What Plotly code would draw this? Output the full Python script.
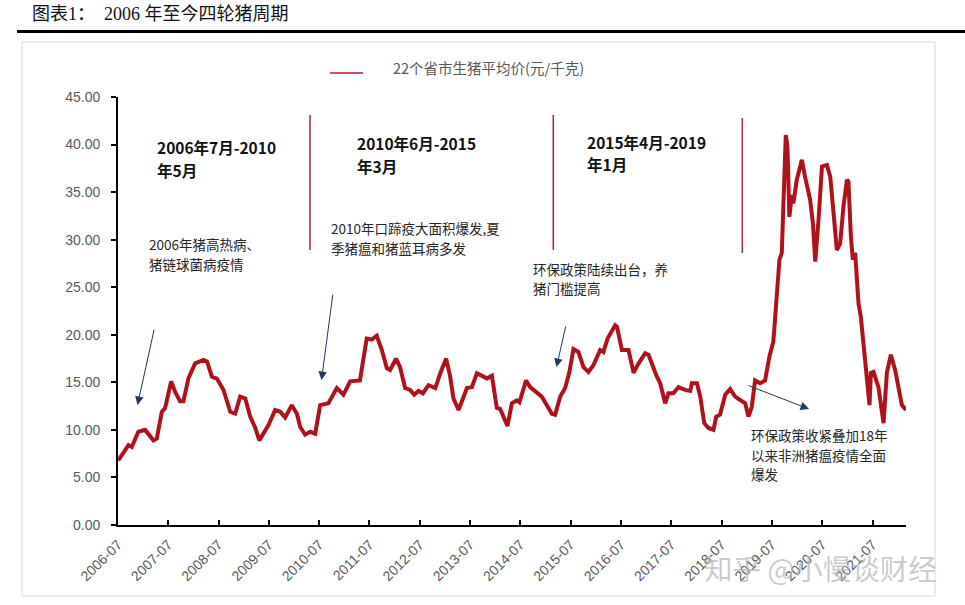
import plotly.graph_objects as go

# ---------------- data ----------------
dates = [
    "2006-07-03", "2006-09-15", "2006-10-09", "2006-11-26", "2007-01-14", "2007-03-15", "2007-04-09",
    "2007-05-15", "2007-06-08", "2007-07-22", "2007-08-20", "2007-09-25", "2007-10-19", "2007-11-24",
    "2008-01-12", "2008-03-13", "2008-04-07", "2008-05-13", "2008-06-18", "2008-08-05", "2008-09-23",
    "2008-10-29", "2008-12-04", "2009-01-10", "2009-02-15", "2009-03-24", "2009-04-22", "2009-05-23",
    "2009-06-28", "2009-08-15", "2009-09-21", "2009-10-27", "2009-12-14", "2010-01-20", "2010-02-13",
    "2010-03-21", "2010-04-26", "2010-06-02", "2010-07-08", "2010-09-06", "2010-11-06", "2010-12-24",
    "2011-02-11", "2011-04-23", "2011-06-11", "2011-07-17", "2011-08-23", "2011-09-29", "2011-11-04",
    "2011-11-28", "2012-01-10", "2012-02-08", "2012-03-16", "2012-04-21", "2012-05-21", "2012-06-21",
    "2012-07-23", "2012-09-02", "2012-10-21", "2012-11-26", "2013-01-08", "2013-02-06", "2013-03-02",
    "2013-04-08", "2013-05-14", "2013-06-08", "2013-07-14", "2013-08-19", "2013-10-06", "2013-10-31",
    "2013-12-06", "2014-01-11", "2014-02-04", "2014-03-29", "2014-04-30", "2014-06-05", "2014-06-24",
    "2014-08-11", "2014-09-10", "2014-10-28", "2014-12-03", "2015-01-09", "2015-02-14", "2015-03-10",
    "2015-04-16", "2015-05-22", "2015-06-22", "2015-07-21", "2015-08-26", "2015-10-02", "2015-11-07",
    "2015-12-13", "2016-01-31", "2016-02-24", "2016-03-25", "2016-05-19", "2016-06-01", "2016-07-07",
    "2016-08-24", "2016-09-30", "2016-11-05", "2016-12-23", "2017-01-16", "2017-03-18", "2017-04-11",
    "2017-05-17", "2017-06-10", "2017-07-16", "2017-08-22", "2017-10-09", "2017-11-15", "2017-11-27",
    "2018-01-03", "2018-01-27", "2018-02-25", "2018-03-28", "2018-05-03", "2018-05-23", "2018-06-20",
    "2018-07-27", "2018-09-01", "2018-10-07", "2018-11-13", "2018-12-19", "2019-01-12", "2019-02-05",
    "2019-03-01", "2019-04-07", "2019-05-13", "2019-06-13", "2019-07-12", "2019-08-06", "2019-08-25",
    "2019-09-11", "2019-09-28", "2019-10-10", "2019-10-22", "2019-11-05", "2019-11-23", "2019-12-04",
    "2019-12-29", "2020-02-04", "2020-02-27", "2020-04-04", "2020-04-24", "2020-05-11", "2020-06-04",
    "2020-06-29", "2020-08-04", "2020-08-28", "2020-09-21", "2020-10-15", "2020-11-08", "2020-12-02",
    "2020-12-27", "2021-01-07", "2021-01-25", "2021-02-08", "2021-02-25", "2021-03-21", "2021-04-07",
    "2021-04-26", "2021-05-21", "2021-06-09", "2021-06-19", "2021-07-08", "2021-08-13", "2021-09-19",
    "2021-10-13", "2021-11-11", "2021-12-12", "2022-01-05", "2022-01-30", "2022-03-01",
]
prices = [
    6.8, 8.4, 8.2, 9.8, 10.0, 8.9, 9.1,
    11.9, 12.3, 15.1, 14.0, 13.0, 13.0, 15.4,
    17.0, 17.35, 17.2, 15.6, 15.4, 14.2, 11.9,
    11.7, 13.5, 13.3, 11.4, 10.2, 8.9, 9.6,
    10.5, 12.1, 11.9, 11.3, 12.6, 11.7, 10.3,
    9.5, 9.8, 9.6, 12.6, 12.8, 14.4, 13.7,
    15.1, 15.2, 19.6, 19.5, 19.9, 18.4, 16.5,
    16.3, 17.5, 16.6, 14.4, 14.2, 13.7, 14.1,
    13.85, 14.7, 14.4, 15.95, 17.5, 15.6, 13.3,
    12.1, 13.5, 14.4, 14.5, 15.95, 15.6, 15.4,
    15.7, 12.3, 12.2, 10.4, 12.8, 13.1, 12.9,
    15.2, 14.5, 13.85, 13.5, 12.6, 11.7, 11.6,
    13.5, 14.4, 16.1, 18.5, 18.2, 16.6, 16.1,
    16.8, 18.4, 18.2, 19.6, 21.0, 20.85, 18.4,
    18.4, 16.0, 17.0, 18.05, 17.9, 15.6, 14.9,
    12.8, 13.85, 13.85, 14.5, 14.2, 14.1, 14.9,
    14.9, 13.5, 10.7, 10.2, 10.0, 11.4, 11.6,
    13.7, 14.3, 13.5, 13.2, 12.8, 11.4, 12.4,
    15.2, 14.9, 15.2, 17.7, 19.3, 24.0, 27.9,
    28.6, 35.6, 41.0, 39.8, 32.4, 34.7, 33.8,
    36.3, 38.4, 36.6, 34.2, 31.7, 27.7, 32.1,
    37.7, 37.85, 36.6, 32.8, 28.9, 29.6, 33.5,
    36.3, 36.1, 30.3, 27.9, 28.6, 23.3, 21.9,
    19.1, 16.0, 12.6, 16.0, 16.1, 14.5, 10.7,
    16.0, 17.9, 16.3, 14.2, 12.6, 12.1,
]
series_name = "22个省市生猪平均价(元/千克)"
tick_dates = [
    "2006-07-01", "2007-07-01", "2008-07-01", "2009-07-01", "2010-07-01", "2011-07-01",
    "2012-07-01", "2013-07-01", "2014-07-01", "2015-07-01", "2016-07-01", "2017-07-01",
    "2018-07-01", "2019-07-01", "2020-07-01", "2021-07-01",
]
tick_labels = [
    "2006-07", "2007-07", "2008-07", "2009-07", "2010-07", "2011-07",
    "2012-07", "2013-07", "2014-07", "2015-07", "2016-07", "2017-07",
    "2018-07", "2019-07", "2020-07", "2021-07",
]
y_ticks = [0, 5, 10, 15, 20, 25, 30, 35, 40, 45]

# ---------------- layout helpers (pixel -> paper) ----------------
W, H = 965, 605
PL, PR, PT, PB = 118, 906, 97, 525


def px(x):
    return (x - PL) / (PR - PL)


def py(y):
    return (PB - y) / (PB - PT)


CJK = "Noto Sans CJK SC"
LAT = "Liberation Sans, Noto Sans CJK SC"

fig = go.Figure()
fig.add_trace(go.Scatter(
    x=dates, y=prices, mode="lines", name=series_name,
    line=dict(color="#B0121B", width=4), showlegend=False,
))

shapes = []
# chart frame
shapes.append(dict(type="rect", xref="paper", yref="paper",
                   x0=px(22), x1=px(935), y0=py(596), y1=py(42),
                   line=dict(color="#D9D9D9", width=1), layer="below"))
# title rule
shapes.append(dict(type="line", xref="paper", yref="paper",
                   x0=px(17), x1=px(965), y0=py(31.5), y1=py(31.5),
                   line=dict(color="black", width=3)))
# legend sample
shapes.append(dict(type="line", xref="paper", yref="paper",
                   x0=px(330), x1=px(363), y0=py(73), y1=py(73),
                   line=dict(color="#C0142E", width=1.5)))
# cycle separators
for (xx, y0, y1) in [(310, 115, 250), (553.3, 115, 250), (742.3, 118, 253)]:
    shapes.append(dict(type="line", xref="paper", yref="paper",
                       x0=px(xx), x1=px(xx), y0=py(y1), y1=py(y0),
                       line=dict(color="#A52A3A", width=1.5)))

annotations = []
# title
annotations.append(dict(xref="paper", yref="paper", x=px(30), y=py(13.5),
                        xanchor="left", yanchor="middle", showarrow=False,
                        text="图表1：  2006 年至今四轮猪周期",
                        font=dict(family="Liberation Serif, Noto Sans CJK SC", size=18, color="#111111")))
# legend text
annotations.append(dict(xref="paper", yref="paper", x=px(391), y=py(68),
                        xanchor="left", yanchor="middle", showarrow=False,
                        text=series_name,
                        font=dict(family=CJK, size=14.5, color="#595959")))


def add_lines(x_left, y_first, spacing, lines, font):
    for i, line in enumerate(lines):
        annotations.append(dict(xref="paper", yref="paper", x=px(x_left),
                                y=py(y_first + i * spacing),
                                xanchor="left", yanchor="middle", align="left",
                                showarrow=False, text=line, font=font))


bold_font = dict(family=CJK, size=15.5, color="#111111")
add_lines(155, 147, 23, ["<b>2006年7月-2010</b>", "<b>年5月</b>"], bold_font)
add_lines(355, 142.5, 23, ["<b>2010年6月-2015</b>", "<b>年3月</b>"], bold_font)
add_lines(585, 141.5, 23, ["<b>2015年4月-2019</b>", "<b>年1月</b>"], bold_font)

note_font = dict(family=CJK, size=13.5, color="#262626")
add_lines(147, 244, 19.5, ["2006年猪高热病、", "猪链球菌病疫情"], note_font)
add_lines(329, 228, 19.5, ["2010年口蹄疫大面积爆发,夏", "季猪瘟和猪蓝耳病多发"], note_font)
add_lines(531, 268.5, 19.5, ["环保政策陆续出台，养", "猪门槛提高"], note_font)
add_lines(749, 435, 19.5, ["环保政策收紧叠加18年", "以来非洲猪瘟疫情全面", "爆发"], note_font)

# arrows (tip, tail in pixels)
arrows = [
    ((137.5, 405), (154.5, 328)),
    ((321.5, 380), (333, 293)),
    ((556.5, 367), (566, 325)),
    ((809, 409), (747, 385)),
]
for (tip, tail) in arrows:
    annotations.append(dict(xref="paper", yref="paper", x=px(tip[0]), y=py(tip[1]),
                            ax=tail[0] - tip[0], ay=tail[1] - tip[1], axref="pixel", ayref="pixel",
                            text="", showarrow=True, arrowhead=2, arrowsize=1.7,
                            arrowwidth=1, arrowcolor="#1F3864", standoff=0))

# watermark
annotations.append(dict(xref="paper", yref="paper", x=px(702), y=py(567),
                        xanchor="left", yanchor="middle", showarrow=False,
                        text="知乎 @小慢谈财经",
                        font=dict(family=CJK, size=28.5, color="rgba(180,180,180,0.7)")))

fig.update_layout(
    width=W, height=H, autosize=False,
    margin=dict(l=PL, r=W - PR, t=PT, b=H - PB, pad=0),
    paper_bgcolor="white", plot_bgcolor="white",
    showlegend=False,
    shapes=shapes, annotations=annotations,
    xaxis=dict(
        type="date", range=["2006-07-01", "2022-03-01"],
        tickvals=tick_dates, ticktext=tick_labels, tickangle=-45,
        ticks="inside", ticklen=5, tickwidth=1.5, tickcolor="black",
        showline=True, linecolor="black", linewidth=1.8,
        showgrid=False, zeroline=False, ticklabelstandoff=4,
        tickfont=dict(family=LAT, size=14, color="#595959"),
    ),
    yaxis=dict(
        range=[0, 45], tickvals=y_ticks, tickformat=".2f",
        ticks="outside", ticklen=5, tickwidth=1.5, tickcolor="black",
        showline=True, linecolor="black", linewidth=1.8,
        showgrid=False, zeroline=False, ticklabelstandoff=8,
        tickfont=dict(family=LAT, size=14, color="#595959"),
    ),
)

fig.write_html("out.html")
